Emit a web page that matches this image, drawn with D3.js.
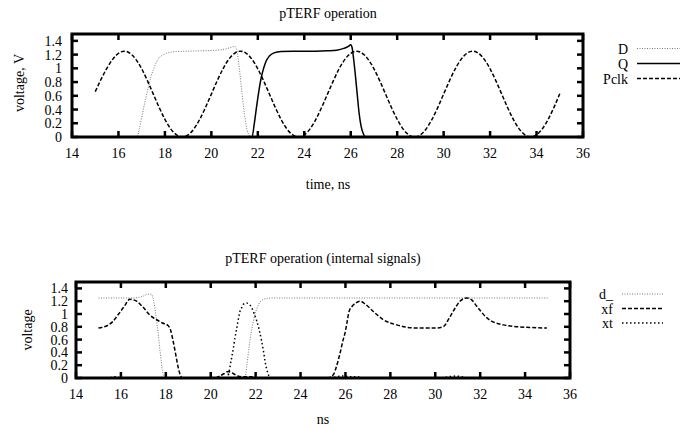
<!DOCTYPE html>
<html><head><meta charset="utf-8">
<script src="https://cdn.jsdelivr.net/npm/d3@7"></script>
<style>
html,body{margin:0;padding:0;background:#fff;}
svg{display:block;}
text{font-family:"Liberation Serif","DejaVu Serif",serif;font-size:14px;fill:#000;}
</style></head>
<body>
<svg id="chart" width="693" height="427"></svg>
<script>
// ---------- data (top plot: pTERF operation) ----------
const xTicks = [14,16,18,20,22,24,26,28,30,32,34,36];
const yTicks = [0,0.2,0.4,0.6,0.8,1,1.2,1.4];
const yTickLabels = ["0","0.2","0.4","0.6","0.8","1","1.2","1.4"];

const dT = [15,16.8,16.9,17.0,17.1,17.2,17.3,17.4,17.5,17.65,17.8,18.0,18.25,18.5,19.0,19.5,20.0,20.4,20.7,20.9,21.0,21.08,21.15,21.22,21.3,21.38,21.46,21.54,21.62,21.7,35];
const dV = [0,0,0.12,0.28,0.45,0.6,0.74,0.88,0.98,1.1,1.17,1.21,1.235,1.245,1.25,1.255,1.26,1.27,1.29,1.31,1.32,1.28,1.15,0.95,0.7,0.45,0.25,0.1,0.03,0,0];

const qT = [15,21.75,21.85,21.95,22.05,22.15,22.25,22.35,22.5,22.7,23.0,23.5,24,24.5,25,25.4,25.7,25.9,26.0,26.06,26.12,26.2,26.28,26.36,26.45,26.55,26.65,35];
const qV = [0,0,0.2,0.45,0.68,0.87,1.0,1.1,1.18,1.225,1.245,1.25,1.25,1.25,1.255,1.265,1.29,1.32,1.345,1.3,1.15,0.9,0.62,0.35,0.15,0.04,0,0];

const pclkT = [15,15.25,15.5,15.75,16,16.25,16.5,16.75,17,17.25,17.5,17.75,18,18.25,18.5,18.75,19,19.25,19.5,19.75,
  20,20.25,20.5,20.75,21,21.25,21.5,21.75,22,22.25,22.5,22.75,23,23.25,23.5,23.75,24,24.25,24.5,24.75,
  25,25.25,25.5,25.75,26,26.25,26.5,26.75,27,27.25,27.5,27.75,28,28.25,28.5,28.75,29,29.25,29.5,29.75,
  30,30.25,30.5,30.75,31,31.25,31.5,31.75,32,32.25,32.5,32.75,33,33.25,33.5,33.75,34,34.25,34.5,34.75,35];
const pclkV = [0.66,0.84,1.0,1.131,1.219,1.25,1.219,1.131,0.993,0.818,0.625,0.432,0.257,0.119,0.031,0,0.031,0.119,0.257,0.432,
  0.625,0.818,0.993,1.131,1.219,1.25,1.219,1.131,0.993,0.818,0.625,0.432,0.257,0.119,0.031,0,0.031,0.119,0.257,0.432,
  0.625,0.818,0.993,1.131,1.219,1.25,1.219,1.131,0.993,0.818,0.625,0.432,0.257,0.119,0.031,0,0.031,0.119,0.257,0.432,
  0.625,0.818,0.993,1.131,1.219,1.25,1.219,1.131,0.993,0.818,0.625,0.432,0.257,0.119,0.031,0,0.031,0.119,0.257,0.432,0.63];

// ---------- data (bottom plot: internal signals) ----------
const d_T = [15,16.0,16.5,16.8,17.0,17.2,17.35,17.45,17.55,17.65,17.75,17.85,17.93,21.53,21.6,21.68,21.76,21.85,21.95,22.05,22.2,22.4,22.7,23.5,35];
const d_V = [1.25,1.25,1.25,1.26,1.28,1.31,1.31,1.22,1.0,0.72,0.4,0.12,0,0,0.17,0.41,0.62,0.8,0.97,1.08,1.19,1.235,1.25,1.25,1.25];

const xfT = [15,15.15,15.4,15.66,15.9,16.15,16.4,16.7,17.0,17.3,17.59,17.85,18.1,18.2,18.33,18.45,18.56,18.65,18.75,20.2,20.4,20.6,20.78,21.0,21.2,21.4,21.8,22.0,25.2,25.46,25.6,25.76,25.9,25.98,26.06,26.16,26.3,26.45,26.65,26.9,27.24,27.69,28.28,29.17,30.0,30.35,30.66,30.9,31.1,31.4,31.62,31.85,32.3,33.03,34.2,34.97];
const xfV = [0.78,0.79,0.82,0.89,1.0,1.12,1.23,1.2,1.1,0.98,0.91,0.86,0.82,0.76,0.57,0.35,0.15,0.04,0,0,0.03,0.07,0.1,0.07,0.03,0.02,0.02,0,0,0.05,0.18,0.39,0.6,0.7,0.85,1.04,1.12,1.17,1.2,1.15,1.04,0.91,0.83,0.78,0.78,0.8,0.96,1.1,1.2,1.25,1.22,1.12,0.94,0.83,0.79,0.78];

const xtT = [15,15.5,15.65,15.8,16.0,20.7,20.8,20.88,21.01,21.08,21.16,21.23,21.3,21.38,21.45,21.6,21.72,21.82,21.94,22.05,22.16,22.27,22.35,22.42,22.5,22.57,22.65,25.3,25.6,25.9,26.2,26.5,26.8,30.3,30.6,30.9,31.2,31.5,35];
const xtV = [0,0,0.02,0.02,0,0,0.07,0.22,0.47,0.63,0.78,0.92,1.04,1.1,1.15,1.17,1.15,1.1,1.0,0.89,0.75,0.57,0.42,0.26,0.13,0.05,0,0,0.02,0.03,0.02,0.02,0,0,0.02,0.03,0.02,0,0];

// ---------- drawing ----------
const svg = d3.select("#chart");

function zip(t, v){ return t.map((x,i)=>[x, v[i]]); }

function drawPlot(cfg){
  const x = d3.scaleLinear().domain([14,36]).range([cfg.left, cfg.right]);
  const y = d3.scaleLinear().domain([0,1.5]).range([cfg.bottom, cfg.top]);
  const g = svg.append("g");
  const line = d3.line().x(d=>x(d[0])).y(d=>y(d[1])).curve(d3.curveMonotoneX);

  cfg.series.forEach(s=>{
    g.append("path").datum(zip(s.t, s.v))
      .attr("d", line).attr("fill","none")
      .attr("stroke", s.color).attr("stroke-width", s.width)
      .attr("stroke-dasharray", s.dash || null);
  });

  // ticks (inward, mirrored)
  const tl = 6;
  xTicks.forEach(v=>{
    g.append("line").attr("x1",x(v)).attr("x2",x(v)).attr("y1",cfg.bottom).attr("y2",cfg.bottom-tl)
      .attr("stroke","#000").attr("stroke-width",2.5);
    g.append("line").attr("x1",x(v)).attr("x2",x(v)).attr("y1",cfg.top).attr("y2",cfg.top+tl)
      .attr("stroke","#000").attr("stroke-width",2.5);
    g.append("text").attr("x",x(v)).attr("y",cfg.bottom+21).attr("text-anchor","middle").text(v);
  });
  yTicks.forEach((v,i)=>{
    g.append("line").attr("x1",cfg.left).attr("x2",cfg.left+tl).attr("y1",y(v)).attr("y2",y(v))
      .attr("stroke","#000").attr("stroke-width",2.5);
    g.append("line").attr("x1",cfg.right).attr("x2",cfg.right-tl).attr("y1",y(v)).attr("y2",y(v))
      .attr("stroke","#000").attr("stroke-width",2.5);
    g.append("text").attr("x",cfg.left-cfg.ylabGap).attr("y",y(v)+5).attr("text-anchor","end").text(yTickLabels[i]);
  });
  // border
  g.append("rect").attr("x",cfg.left).attr("y",cfg.top)
    .attr("width",cfg.right-cfg.left).attr("height",cfg.bottom-cfg.top)
    .attr("fill","none").attr("stroke","#000").attr("stroke-width",3);

  // titles
  g.append("text").attr("x",cfg.titleX).attr("y",cfg.titleY).attr("text-anchor","middle").text(cfg.title);
  g.append("text").attr("x",cfg.titleX).attr("y",cfg.xlabY).attr("text-anchor","middle").text(cfg.xlabel);
  g.append("text").attr("transform",`translate(${cfg.ylabX},${cfg.ylabY}) rotate(-90)`)
    .attr("text-anchor","middle").text(cfg.ylabel);

  // legend
  cfg.series.forEach((s,i)=>{
    const ly = cfg.legY + i*cfg.legStep;
    g.append("text").attr("x",cfg.legTextX).attr("y",ly+5).attr("text-anchor","end").text(s.name);
    g.append("line").attr("x1",cfg.legX1).attr("x2",cfg.legX2).attr("y1",ly).attr("y2",ly)
      .attr("stroke",s.color).attr("stroke-width",s.width).attr("stroke-dasharray",s.dash||null);
  });
}

drawPlot({
  left:72, right:583, top:34, bottom:137, ylabGap:10,
  title:"pTERF operation", titleX:328, titleY:18,
  xlabel:"time, ns", xlabY:189, ylabel:"voltage, V", ylabX:24, ylabY:83,
  legTextX:628, legX1:637, legX2:680, legY:48.5, legStep:15,
  series:[
    {name:"D", t:dT, v:dV, color:"#777", width:1, dash:"1,1.5"},
    {name:"Q", t:qT, v:qV, color:"#000", width:1.5, dash:null},
    {name:"Pclk", t:pclkT, v:pclkV, color:"#000", width:1.5, dash:"4,2"}
  ]
});

drawPlot({
  left:76, right:570, top:282, bottom:378, ylabGap:8,
  title:"pTERF operation (internal signals)", titleX:323, titleY:263,
  xlabel:"ns", xlabY:424, ylabel:"voltage", ylabX:32, ylabY:330,
  legTextX:613, legX1:622, legX2:663, legY:294, legStep:14.5,
  series:[
    {name:"d_", t:d_T, v:d_V, color:"#777", width:1, dash:"1,1.5"},
    {name:"xf", t:xfT, v:xfV, color:"#000", width:1.5, dash:"4,2"},
    {name:"xt", t:xtT, v:xtV, color:"#000", width:1.5, dash:"1.5,2.5"}
  ]
});
</script>
</body></html>
